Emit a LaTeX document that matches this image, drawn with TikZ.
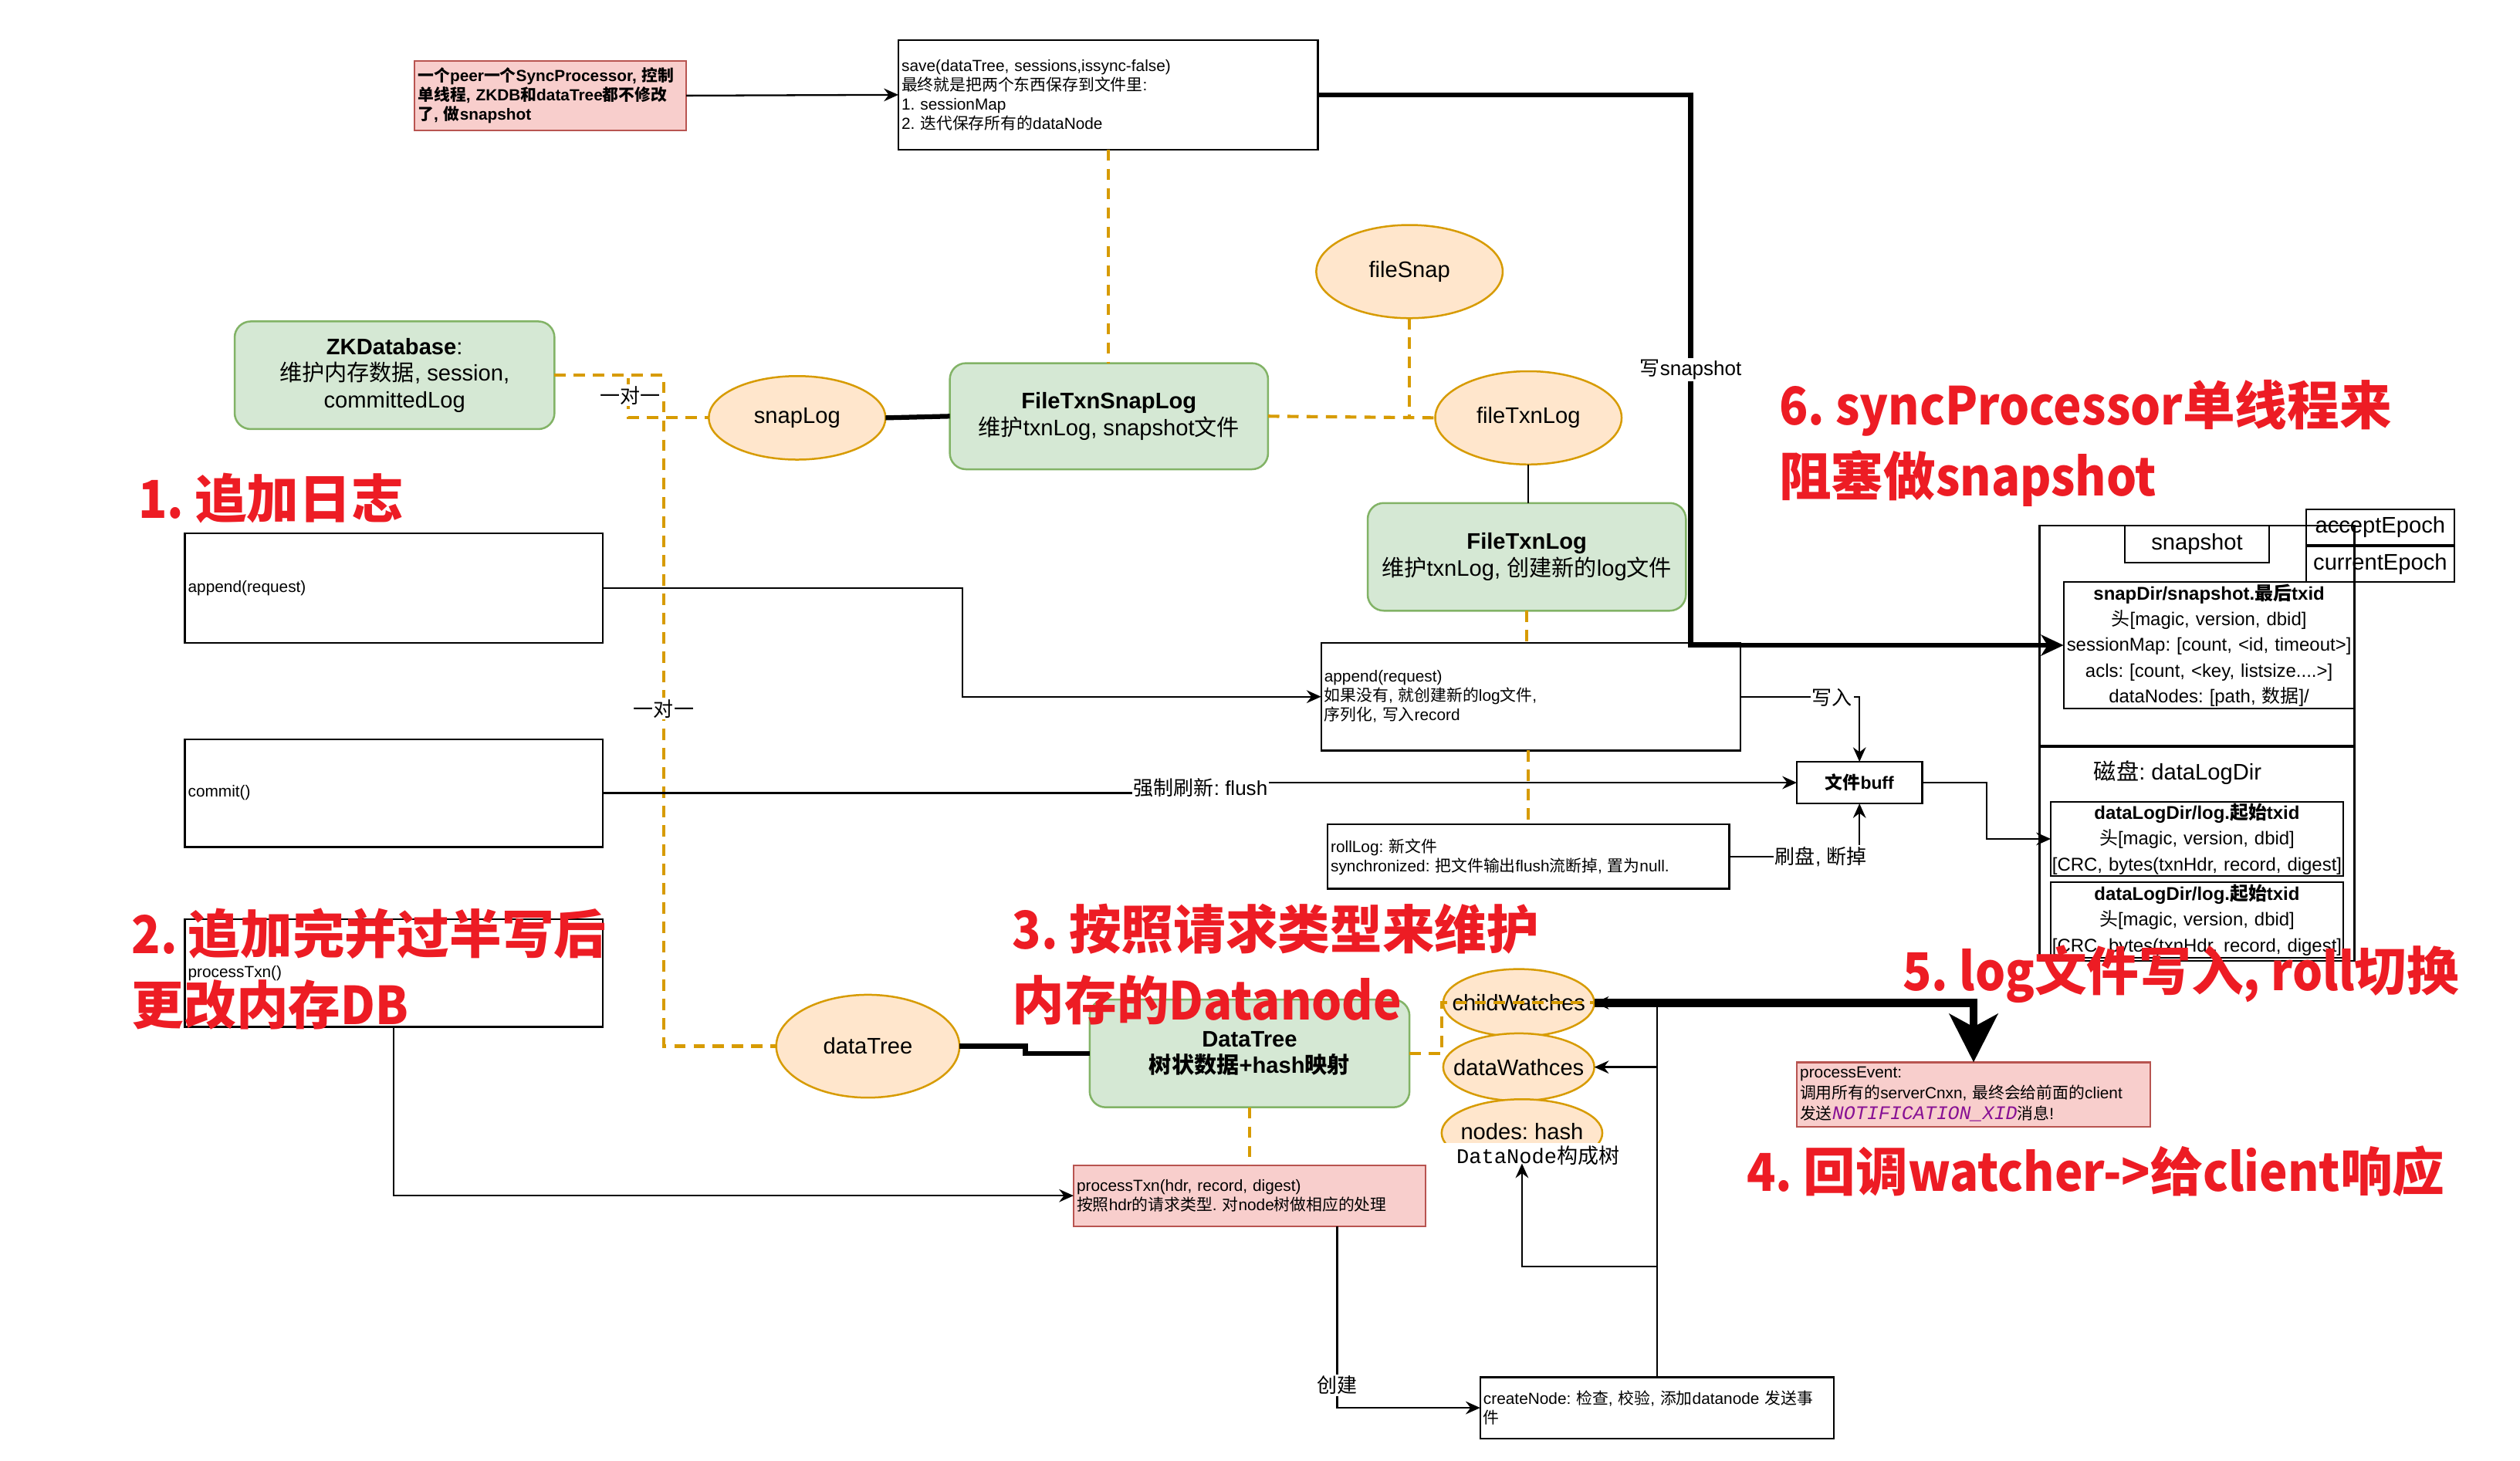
\documentclass[tikz,border=0pt]{standalone}
\usepackage{fontspec}
\setmainfont{Liberation Sans}
\setmonofont{Liberation Mono}
\newfontfamily\cjk{Noto Sans CJK SC}
\newfontfamily\headlatin{Noto Sans CJK SC}[FakeStretch=0.91]
\usetikzlibrary{arrows.meta,shapes.geometric,backgrounds}
\frenchspacing

% Ideographs are set in the CJK family, everything else in the main family
\XeTeXinterchartokenstate=1
\chardef\cjkcls=7
\newcount\cjkcnt
\def\cjkrange#1#2{\cjkcnt=#1\relax
  \loop \XeTeXcharclass\cjkcnt=\cjkcls \advance\cjkcnt by 1 \ifnum\cjkcnt<#2\relax\repeat}
\cjkrange{"3000}{"3040}
\cjkrange{"4E00}{"A000}
\cjkrange{"FF00}{"FFF0}
\def\latinback{\rmfamily}
\XeTeXinterchartoks 0 \cjkcls = {\cjk}
\XeTeXinterchartoks 4095 \cjkcls = {\cjk}
\XeTeXinterchartoks \cjkcls 0 = {\latinback}
\XeTeXinterchartoks \cjkcls 4095 = {\latinback}

\newcommand\fntsmall{\fontsize{10}{12}\selectfont}
\newcommand\fntmid{\fontsize{14}{16.5}\selectfont}
\newcommand\fntlabel{\fontsize{12.5}{15}\selectfont}
\newcommand\fntsnap{\fontsize{11.5}{16}\selectfont}
\newcommand\fnthead{\def\latinback{\headlatin}\headlatin\bfseries\fontsize{32.5}{44}\selectfont}

\definecolor{ored}{HTML}{D79B00}
\definecolor{ofill}{HTML}{FFE6CC}
\definecolor{gfill}{HTML}{D5E8D4}
\definecolor{gline}{HTML}{82B366}
\definecolor{pfill}{HTML}{F8CECC}
\definecolor{pline}{HTML}{B85450}
\definecolor{headred}{HTML}{ED1C24}
\definecolor{notifpurple}{HTML}{871094}

\tikzset{
  every node/.style={inner sep=0pt, outer sep=0pt},
  txtbox/.style={draw=black, line width=1.1pt, fill=white, inner xsep=2pt, inner ysep=0pt, align=left, font=\fntsmall},
  notebox/.style={draw=pline, fill=pfill, line width=1.1pt, inner xsep=2pt, align=left},
  greenbox/.style={draw=gline, fill=gfill, line width=1.2pt, rounded corners=10pt, align=center, font=\fntmid},
  oval/.style={ellipse, draw=ored, fill=ofill, line width=1.2pt, font=\fntmid},
  framebox/.style={draw=black, line width=1.1pt},
  filebox/.style={draw=black, line width=1.1pt, align=center, font=\fntsnap},
  link/.style={draw=black, line width=1.1pt},
  arrowlink/.style={link, -{Stealth[length=9pt,width=8pt,inset=3pt]}},
  heavy/.style={draw=black, line width=3pt},
  heavyarrow/.style={heavy, -{Stealth[length=14pt,width=13pt,inset=4pt]}},
  odash/.style={draw=ored, line width=2pt, dash pattern=on 7pt off 5pt},
  tag/.style={fill=white, font=\fntlabel, inner sep=1pt},
  headline/.style={text=headred, anchor=west, align=left, font=\fnthead},
}

\begin{document}
\begin{tikzpicture}[x=1pt,y=-1pt]
\fill[white] (0,0) rectangle (1568,909);
\useasboundingbox (0,0) rectangle (1568,909);

% ---------- left column: the sync processor calls
\node[txtbox, minimum height=68, text width=256] (appL) at (245,366) {append(request)};
\node[txtbox, minimum height=67, text width=256] (commitL) at (245,493.5) {commit()};
\node[txtbox, minimum height=67, text width=256] (ptxnL) at (245,605.5) {processTxn()};

% ---------- snapshot trigger
\node[notebox, font=\bfseries\fntsmall, minimum height=43, text width=165] (note) at (342.5,59.5)
  {一个peer一个SyncProcessor, 控制\\单线程, ZKDB和dataTree都不修改\\了, 做snapshot};
\node[txtbox, minimum height=68, text width=257] (save) at (689.5,59)
  {save(dataTree, sessions,issync-false)\\最终就是把两个东西保存到文件里:\\1. sessionMap\\2. 迭代保存所有的dataNode};

% ---------- classes
\node[greenbox, minimum width=199, minimum height=67] (zkdb) at (245.5,233.5)
  {\textbf{ZKDatabase}:\\维护内存数据, session,\\committedLog};
\node[greenbox, minimum width=198, minimum height=66] (ftsl) at (690,259)
  {\textbf{FileTxnSnapLog}\\维护txnLog, snapshot文件};
\node[greenbox, minimum width=198, minimum height=67] (ftl) at (950,346.5)
  {\textbf{FileTxnLog}\\维护txnLog, 创建新的log文件};
\node[greenbox, minimum width=199, minimum height=67] (dtbox) at (777.5,655.5)
  {\textbf{DataTree}\\\textbf{树状数据+hash映射}};

% ---------- fields
\node[oval, minimum width=110, minimum height=52] (snapLog) at (496,260) {\makebox[0pt]{snapLog}};
\node[oval, minimum width=116, minimum height=58] (fileSnap) at (877,169) {\makebox[0pt]{fileSnap}};
\node[oval, minimum width=116, minimum height=58] (fileTxnLog) at (951,260) {\makebox[0pt]{fileTxnLog}};
\node[oval, minimum width=114, minimum height=64] (dataTreeE) at (540,651) {\makebox[0pt]{dataTree}};
\node[oval, minimum width=94, minimum height=42] (childW) at (945,624) {\makebox[0pt]{childWatches}};
\node[oval, minimum width=94, minimum height=42] (dataW) at (945,664) {\makebox[0pt]{dataWathces}};
\node[oval, minimum width=100, minimum height=42] (nodesE) at (947,705) {\makebox[0pt]{\raisebox{2pt}{nodes: hash}}};
\node[fill=white, minimum width=120, minimum height=16, font=\fontsize{13}{15}\selectfont] (dnLabel) at (957,719)
  {{\ttfamily DataNode}构成树};

% ---------- log file handling
\node[txtbox, minimum height=67, text width=257] (appR) at (952.5,433.5)
  {append(request)\\如果没有, 就创建新的log文件,\\序列化, 写入record};
\node[txtbox, minimum height=40, text width=246] (rollLog) at (951,533)
  {rollLog: 新文件\\synchronized: 把文件输出flush流断掉, 置为null.};
\node[txtbox, minimum width=78, minimum height=26, align=center, font=\bfseries\fontsize{11}{13}\selectfont] (buff) at (1157,487) {文件buff};

% ---------- data tree processing
\node[notebox, font=\fntsmall, minimum height=38, text width=215] (ptxnP) at (777.5,744)
  {processTxn(hdr, record, digest)\\按照hdr的请求类型. 对node树做相应的处理};
\node[notebox, font=\fontsize{10}{13}\selectfont, minimum height=40, text width=216] (pEvent) at (1228,681)
  {processEvent:\\调用所有的serverCnxn, 最终会给前面的client\\发送\hbox{\ttfamily\itshape\color{notifpurple}\fontsize{12}{13}\selectfont NOTIFICATION\_XID}消息!};
\node[txtbox, minimum height=38, text width=216] (createNode) at (1031,876)
  {createNode: 检查, 校验, 添加datanode 发送事\\件};

% ---------- on-disk layout
\node[framebox, minimum width=196, minimum height=137] (snapOuter) at (1367,395.5) {};
\node[framebox, minimum width=196, minimum height=133] (diskOuter) at (1367,531.5) {};
\node[framebox, minimum width=90, minimum height=23, font=\fntmid] (snapTitle) at (1367,338.5) {snapshot};
\node[framebox, minimum width=92, minimum height=22, font=\fntmid] (acceptE) at (1481,328) {acceptEpoch};
\node[framebox, minimum width=92, minimum height=22, font=\fntmid] (currentE) at (1481,351) {currentEpoch};
\node[filebox, minimum height=79, text width=181] (snapDir) at (1374.5,401.5)
  {\textbf{snapDir/snapshot.最后txid}\\头[magic, version, dbid]\\sessionMap: [count, <id, timeout>]\\acls: [count, <key, listsize....>]\\dataNodes: [path, 数据]/};
\node[font=\fntmid] (diskLabel) at (1355,481) {磁盘: dataLogDir};
\node[filebox, minimum height=46, text width=182] (log1) at (1367,522)
  {\textbf{dataLogDir/log.起始txid}\\头[magic, version, dbid]\\{}[CRC, bytes(txnHdr, record, digest]};
\node[filebox, minimum height=47, text width=182] (log2) at (1367,572.5)
  {\textbf{dataLogDir/log.起始txid}\\头[magic, version, dbid]\\{}[CRC, bytes(txnHdr, record, digest]};

% ---------- dashed ownership links
\begin{pgfonlayer}{background}
\draw[odash] (zkdb.south) -- (zkdb.south |- ptxnL.north);
\end{pgfonlayer}
\draw[odash] (zkdb.east) -| (391,260) -- (snapLog.west);
\draw[odash] (zkdb.east) -| (413,651) -- (dataTreeE.west);
\draw[odash] (save.south) -- (save.south |- ftsl.north);
\draw[odash] (ftsl.east) -- (fileTxnLog.west);
\draw[odash] (fileSnap.south) -- (fileSnap.south |- ftsl.east);
\draw[odash] (ftl.south) -- (ftl.south |- appR.north);
\draw[odash] (rollLog.north |- appR.south) -- (rollLog.north);
\draw[odash] (dtbox.south) -- (dtbox.south |- ptxnP.north);
\draw[odash] (dtbox.east) -| (897,624) -- (childW.east);

% ---------- solid links
\draw[heavy] (snapLog.east) -- (ftsl.west);
\draw[heavy] (dataTreeE.east) -- (638,651) -- (638,655.5) -- (dtbox.west);
\draw[link] (fileTxnLog.south) -- (fileTxnLog.south |- ftl.north);
\draw[arrowlink] (note.east) -- (save.west);
\draw[heavyarrow] (save.east) -- (1052,59) -- (1052,401.5) -- (snapDir.west);
\draw[arrowlink] (appL.east) -- (599,366) -- (599,433.5) -- (appR.west);
\draw[arrowlink] (commitL.east) -- (747,493.5) -- (747,487) -- (buff.west);
\draw[arrowlink] (appR.east) -| (buff.north);
\draw[arrowlink] (rollLog.east) -| (buff.south);
\draw[arrowlink] (buff.east) -- (1236,487) -- (1236,522) -- (log1.west);
\draw[arrowlink] (ptxnL.south) |- (ptxnP.west);
\draw[arrowlink] (832,0 |- ptxnP.south) |- (createNode.west);
\draw[draw=black, line width=5pt, -{Stealth[length=30pt,width=30pt,inset=8pt]}] (childW.east) -| (pEvent.north);
\draw[arrowlink] (createNode.north) -- (1031,624) -- (childW.east);
\draw[arrowlink] (createNode.north) -- (1031,664) -- (dataW.east);
\draw[arrowlink] (createNode.north) -- (1031,788) -- (947,788) -- (947,724);

% ---------- link labels
\node[tag] (lblOne1) at (392,246) {一对一};
\node[tag] (lblOne2) at (413,441) {一对一};
\node[tag] (lblSnap) at (1052,230) {写snapshot};
\node[tag] (lblWrite) at (1140,434) {写入};
\node[tag] (lblFlush) at (747,490) {强制刷新: flush};
\node[tag] (lblSync) at (1133,533) {刷盘, 断掉};
\node[tag] (lblCreate) at (832,862) {创建};

% ---------- step headings
\node[headline] (h1) at (86,310) {1. 追加日志};
\node[headline] (h2) at (82,603) {2. 追加完并过半写后\\更改内存DB};
\node[headline] (h3) at (630,600) {3. 按照请求类型来维护\\内存的Datanode};
\node[headline] (h4) at (1087,729) {4. 回调watcher->给client响应};
\node[headline] (h5) at (1184,606) {5. log文件写入, roll切换};
\node[headline] (h6) at (1107,276) {6. syncProcessor单线程来\\阻塞做snapshot};
\end{tikzpicture}
\end{document}
